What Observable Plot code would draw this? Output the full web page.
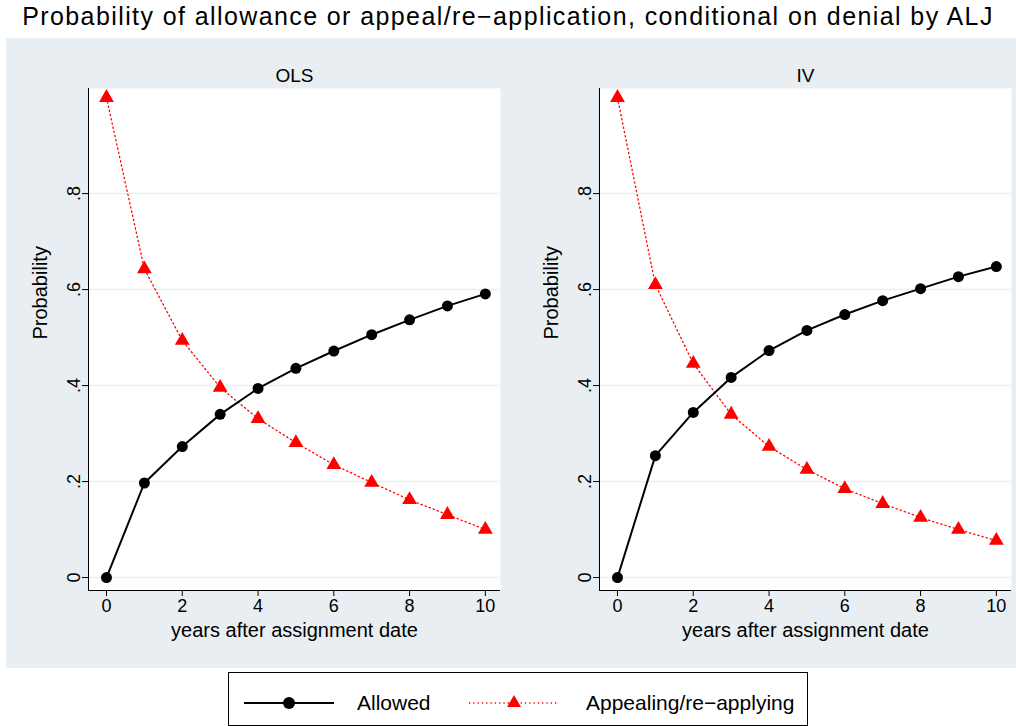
<!DOCTYPE html>
<html><head><meta charset="utf-8">
<script src="https://cdn.jsdelivr.net/npm/d3@7"></script>
<script src="https://cdn.jsdelivr.net/npm/@observablehq/plot@0.6"></script>
<style>
body{margin:0;background:#fff;font-family:"Liberation Sans",Arial,sans-serif;width:1016px;height:726px;position:relative;overflow:hidden}
#title{position:absolute;top:2px;left:0;width:1016px;text-align:center;font-size:25px;letter-spacing:1.4px;white-space:nowrap}
#bg{position:absolute;left:6px;top:38px;width:1010px;height:630px;background:#e8eef1;overflow:hidden}
#left,#right{position:absolute;top:0}
#left{left:0}#right{left:511px}
#bg svg{max-width:none}
#legend{position:absolute;left:228px;top:672px;width:580px;height:54px;border:1px solid #000;box-sizing:border-box;background:#fff}
</style></head><body>
<div id="title">Probability of allowance or appeal/re−application, conditional on denial by ALJ</div>
<div id="bg"><div id="left"></div><div id="right"></div></div>
<div id="legend"></div>
<script>
const years = [0,1,2,3,4,5,6,7,8,9,10];
const olsAllowed = [0,0.197,0.273,0.340,0.394,0.436,0.472,0.506,0.537,0.566,0.591];
const olsAppeal  = [1.0,0.643,0.494,0.396,0.331,0.281,0.235,0.198,0.162,0.131,0.100];
const ivAllowed  = [0,0.254,0.344,0.417,0.473,0.515,0.548,0.577,0.602,0.627,0.648];
const ivAppeal   = [1.0,0.610,0.446,0.340,0.273,0.225,0.185,0.154,0.125,0.100,0.077];

const fmt = d => d === 0 ? "0" : d3.format(".1f")(d).replace("0.", ".");

function panel(name, allowed, appeal) {
  const a = years.map((x, i) => ({x, y: allowed[i]}));
  const b = years.map((x, i) => ({x, y: appeal[i]}));
  return Plot.plot({
    width: 505, height: 630,
    marginLeft: 82, marginRight: 11, marginTop: 50, marginBottom: 78,
    style: {fontFamily: "Liberation Sans, Arial, sans-serif", fontSize: "18px", background: "transparent"},
    x: {domain: [-0.475, 10.4]},
    y: {domain: [-0.027, 1.019]},
    marks: [
      Plot.frame({fill: "white", stroke: "none"}),
      Plot.gridY([0, 0.2, 0.4, 0.6, 0.8], {stroke: "#e8eef1", strokeOpacity: 1, strokeWidth: 1.5}),
      Plot.axisX([0, 2, 4, 6, 8, 10], {label: null, tickSize: 6, fontSize: 18, tickPadding: 3}),
      Plot.text(["years after assignment date"], {frameAnchor: "bottom", dy: 46, fontSize: 20}),
      Plot.ruleY([-0.027], {stroke: "black"}),
      Plot.axisY([0, 0.2, 0.4, 0.6, 0.8], {tickFormat: fmt, tickRotate: -90, label: null, tickSize: 6, fontSize: 18}),
      Plot.text(["Probability"], {frameAnchor: "left", dx: -48, rotate: -90, fontSize: 20}),
      Plot.ruleX([-0.475], {stroke: "black"}),
      Plot.text([name], {frameAnchor: "top", dy: -20, fontSize: 19}),
      Plot.line(b, {x: "x", y: "y", stroke: "red", strokeWidth: 1.3, strokeDasharray: "1.3,3"}),
      Plot.dot(b, {x: "x", y: "y", symbol: "triangle", r: 5.5, fill: "red", stroke: "none"}),
      Plot.line(a, {x: "x", y: "y", stroke: "black", strokeWidth: 2}),
      Plot.dot(a, {x: "x", y: "y", r: 5.5, fill: "black", stroke: "none"})
    ]
  });
}
document.getElementById("left").append(panel("OLS", olsAllowed, olsAppeal));
document.getElementById("right").append(panel("IV", ivAllowed, ivAppeal));

document.getElementById("legend").innerHTML = `
<svg width="580" height="54" style="position:absolute;left:0;top:0;font-family:Liberation Sans,Arial,sans-serif">
 <line x1="15" x2="105" y1="30" y2="30" stroke="black" stroke-width="2"/>
 <circle cx="60" cy="30" r="6" fill="black"/>
 <text x="128" y="37" font-size="21">Allowed</text>
 <line x1="240" x2="330" y1="30" y2="30" stroke="red" stroke-width="1.3" stroke-dasharray="1.3,3"/>
 <path d="M285,22 L292,34 L278,34 Z" fill="red"/>
 <text x="357" y="37" font-size="21">Appealing/re−applying</text>
</svg>`;
</script>
</body></html>
